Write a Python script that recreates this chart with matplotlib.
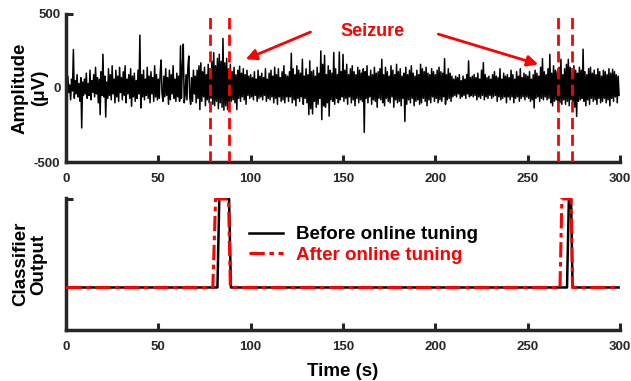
import numpy as np
import matplotlib
matplotlib.use("Agg")
import matplotlib.pyplot as plt

plt.rcParams['font.family'] = ['Liberation Sans', 'DejaVu Sans']
plt.rcParams['font.weight'] = 'bold'
plt.rcParams['axes.unicode_minus'] = False

eeg_step = 0.5
eeg_uv = [
    40,-60,80,-30,20,-80,60,-20,260,-70, 50,-40,90,-60,30,-90,70,-270,40,-50,
    60,-40,100,-70,30,-50,120,-80,50,-30, 90,-60,140,-40,70,-100,60,-180,110,-50,
    228,-60,80,-196,40,-70,130,-50,90,-80, 150,-40,60,-100,120,-60,80,-90,140,-30,
    70,-80,110,-50,150,-100,60,-40,90,-70, 130,-124,80,-60,100,-90,50,-70,120,-40,
    357,-135,90,-60,120,-80,60,-50,140,-70, 80,-100,110,-40,70,-90,150,-60,90,-80,
    60,-70,100,189,-40,-90,80,-60,130,-50, 70,-110,120,-80,90,-40,150,-70,60,-90,
    100,-60,80,-90,285,-70,130,296,-100,-50, 90,-80,140,216,-60,-110,70,-90,120,-40,
    80,-100,120,-70,150,-146,170,-90,110,-60, 140,-120,90,-80,160,-100,130,-70,180,-110,
    239,-120,150,-90,200,-140,228,-100,180,-130, 335,-150,170,-120,200,-146,130,-110,160,-90,
    110,-80,140,-100,90,-146,120,-70,148,-90, 100,-60,130,-80,90,-110,120,-50,80,-70,
    90,-60,70,-80,110,-50,60,-90,120,-70, 80,-60,100,-80,70,-50,130,-90,60,-70,
    100,-80,120,-60,80,-100,140,-70,90,-110, 130,-60,70,-90,110,-80,150,-100,90,-60,
    80,-90,110,-60,235,-100,130,-80,90,-120, 150,-70,120,-90,100,-60,194,-110,80,-70,
    130,-100,90,-180,183,-140,110,-175,120,-90, 80,-130,140,-110,100,-70,250,-214,160,-120,
    220,-130,90,-100,150,-190,120,-80,100,-90, 240,-110,130,-70,90,-100,243,-80,110,-60,
    227,-90,120,-70,160,-110,90,-60,130,-100, 150,-80,110,-120,90,-70,140,-100,120,-80,
    100,-90,130,-300,110,-70,150,-100,80,-60, 120,-110,90,-80,140,-90,100,-130,110,-70,
    130,-80,194,-100,90,-120,140,-70,110,-90, 80,-100,150,-60,120,-130,90,-80,160,-100,
    110,-90,130,-120,80,-70,100,-226,140,-110, 90,-80,120,-100,150,-70,100,-120,80,-90,
    120,-80,90,-110,160,-100,130,-70,110,-90, 140,-120,100,-80,90,-100,130,-60,110,-90,
    90,-70,120,-100,140,-80,110,-90,100,-60, 198,-110,90,-80,130,-70,100,-90,80,-60,
    60,-50,80,-60,70,-40,90,-70,50,-60, 80,-50,60,-70,90,-40,183,-60,70,-50,
    80,-60,90,-50,70,-80,100,-60,60,-70, 120,-50,171,-80,90,-60,70,-70,80,-50,
    60,-70,90,-60,110,-50,80,-90,70,-60, 130,-80,60,-70,100,-60,80,-100,90,-60,
    70,-80,120,-60,90,-100,60,-70,110,-60, 80,-90,130,-70,70,-60,100,-80,90,-60,
    80,-70,110,-90,60,-80,90,-135,120,-70, 100,-60,80,-90,140,-70,198,-80,110,-60,
    90,-80,130,-70,227,-100,100,-120,150,-90, 120,-80,110,-150,140,-100,194,-110,90,-80,
    130,-110,160,-90,194,-120,140,-80,110,-100, 150,-130,120,-192,100,-90,140,-80,120,-70,
    262,-90,110,-120,90,-80,130,-110,140,-70, 100,-90,120,-80,90,-110,130,-70,110,-100,
    80,-90,120,-70,110,-100,90,-80,130,-120, 100,-70,126,-90,110,-60,90,-100,80,-50,
]

# seizure markers (s)
seizure_marks = [78, 88, 266.5, 274]

# classifier outputs
before_t = [0, 82, 83, 88.3, 89.3, 271.3, 272.3, 273.5, 274.3, 300]
before_y = [0, 0, 1, 1, 0, 0, 1, 1, 0, 0]
after_t = [0, 79.5, 81, 88.0, 89.0, 267.5, 268.5, 273.5, 274.3, 300]
after_y = [0, 0, 1, 1, 0, 0, 1, 1, 0, 0]

x_ticks = [0, 50, 100, 150, 200, 250, 300]
amp_ticks = [-500, 0, 500]

fig = plt.figure(figsize=(6.31, 3.81), dpi=100)
ax1 = fig.add_axes([0.1046, 0.5748, 0.878, 0.3885])
ax2 = fig.add_axes([0.1046, 0.1339, 0.878, 0.3464])

spine_c = '#262626'
for ax in (ax1, ax2):
    for s in ('top', 'right'):
        ax.spines[s].set_visible(False)
    for s in ('left', 'bottom'):
        ax.spines[s].set_linewidth(2.5)
        ax.spines[s].set_color(spine_c)
    ax.tick_params(direction='in', length=5, width=2.2, color=spine_c,
                   labelsize=9.5)
    ax.tick_params(axis='x', pad=8)
    ax.tick_params(axis='y', pad=4)
    ax.set_xlim(0, 300)
    ax.set_xticks(x_ticks)
    for lab in ax.get_xticklabels() + ax.get_yticklabels():
        lab.set_fontweight('bold')
        lab.set_color('#262626')

t_eeg = np.arange(len(eeg_uv)) * eeg_step
ax1.plot(t_eeg, eeg_uv, color='black', lw=1.1)
ax1.set_ylim(-500, 500)
ax1.set_yticks(amp_ticks)
ax1.set_yticklabels([str(v) for v in amp_ticks], fontweight='bold')
for m in seizure_marks:
    ax1.plot([m, m], [-500, 480], color='#ff0000', lw=2, ls=(0, (4, 2)), zorder=3)

ax1.text(166, 384, 'Seizure', color='#ff0000', fontsize=13, fontweight='bold',
         ha='center', va='center')
ax1.annotate('', xy=(97.3, 194), xytext=(132.4, 378),
             arrowprops=dict(arrowstyle='-|>', color='#ff0000', lw=2, mutation_scale=16,
                             shrinkA=0, shrinkB=0))
ax1.annotate('', xy=(255.7, 160), xytext=(201.6, 364),
             arrowprops=dict(arrowstyle='-|>', color='#ff0000', lw=2, mutation_scale=16,
                             shrinkA=0, shrinkB=0))
ax1.set_ylabel('Amplitude\n(\u03bcV)', fontsize=13.5, fontweight='bold', linespacing=1.15)
ax1.yaxis.set_label_coords(-0.033, 0.5)

ax2.plot(before_t, before_y, color='black', lw=1.8, label='Before online tuning', zorder=2)
ax2.plot(after_t, after_y, color='#ff0000', lw=2.2, ls=(0, (5, 1.5, 1.5, 1.5)),
         label='After online tuning', zorder=3)
ax2.set_ylim(-0.48, 1.01)
ax2.set_yticks([1.0])
ax2.set_yticklabels([''])
ax2.set_ylabel('Classifier\nOutput', fontsize=13.5, fontweight='bold', linespacing=1.15)
ax2.yaxis.set_label_coords(-0.033, 0.5)
ax2.set_xlabel('Time (s)', fontsize=13.5, fontweight='bold', labelpad=7)

leg = ax2.legend(loc='center left', bbox_to_anchor=(0.33, 0.644), frameon=False,
                 handlelength=1.8, handletextpad=0.7,
                 borderaxespad=0, borderpad=0, labelspacing=0.2,
                 prop={'weight': 'bold', 'size': 13.5})
texts = leg.get_texts()
texts[0].set_color('black')
texts[1].set_color('#ff0000')

fig.savefig('out.png', dpi=100)
